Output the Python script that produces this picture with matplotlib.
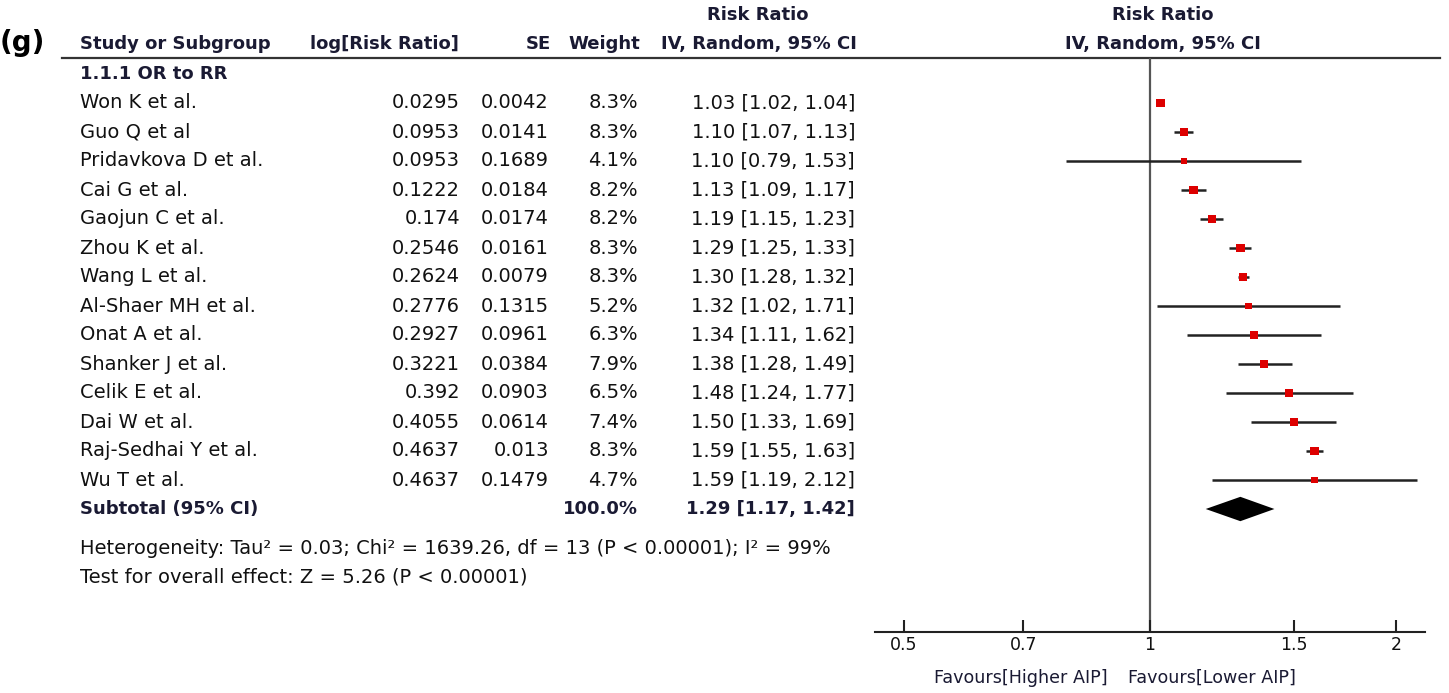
import numpy as np
import matplotlib
matplotlib.use("Agg")
import matplotlib.pyplot as plt

plt.rcParams['font.family'] = ['DejaVu Sans']

# data
studies = ["Won K et al.", "Guo Q et al", "Pridavkova D et al.", "Cai G et al.",
           "Gaojun C et al.", "Zhou K et al.", "Wang L et al.", "Al-Shaer MH et al.",
           "Onat A et al.", "Shanker J et al.", "Celik E et al.", "Dai W et al.",
           "Raj-Sedhai Y et al.", "Wu T et al."]
log_rr = ["0.0295", "0.0953", "0.0953", "0.1222", "0.174", "0.2546", "0.2624",
          "0.2776", "0.2927", "0.3221", "0.392", "0.4055", "0.4637", "0.4637"]
se = ["0.0042", "0.0141", "0.1689", "0.0184", "0.0174", "0.0161", "0.0079",
      "0.1315", "0.0961", "0.0384", "0.0903", "0.0614", "0.013", "0.1479"]
weight = [8.3, 8.3, 4.1, 8.2, 8.2, 8.3, 8.3, 5.2, 6.3, 7.9, 6.5, 7.4, 8.3, 4.7]
rr = [1.03, 1.10, 1.10, 1.13, 1.19, 1.29, 1.30, 1.32, 1.34, 1.38, 1.48, 1.50, 1.59, 1.59]
ci_lo = [1.02, 1.07, 0.79, 1.09, 1.15, 1.25, 1.28, 1.02, 1.11, 1.28, 1.24, 1.33, 1.55, 1.19]
ci_hi = [1.04, 1.13, 1.53, 1.17, 1.23, 1.33, 1.32, 1.71, 1.62, 1.49, 1.77, 1.69, 1.63, 2.12]
sub_rr, sub_lo, sub_hi = 1.29, 1.17, 1.42
ticks = [0.5, 0.7, 1, 1.5, 2]
tick_labels = ["0.5", "0.7", "1", "1.5", "2"]

W, H = 1449, 693
fig = plt.figure(figsize=(W / 100, H / 100), dpi=100)

# text layer in pixel coordinates
tx = fig.add_axes([0, 0, 1, 1])
tx.set_xlim(0, W)
tx.set_ylim(H, 0)
tx.axis("off")

txt_col = "#111111"
hdr_col = "#1a1a33"
fs = 14      # body text
fb = 13      # bold headers
ff = 12.6    # favours labels

tx.text(0, 43, "(g)", fontsize=20, fontweight="bold", color="#000000", va="center")
tx.text(758, 15, "Risk Ratio", fontsize=fb, fontweight="bold", color=hdr_col, ha="center", va="center")
tx.text(1163, 15, "Risk Ratio", fontsize=fb, fontweight="bold", color=hdr_col, ha="center", va="center")
tx.text(80, 44, "Study or Subgroup", fontsize=fb, fontweight="bold", color=hdr_col, va="center")
tx.text(459, 44, "log[Risk Ratio]", fontsize=fb, fontweight="bold", color=hdr_col, ha="right", va="center")
tx.text(551, 44, "SE", fontsize=fb, fontweight="bold", color=hdr_col, ha="right", va="center")
tx.text(640, 44, "Weight", fontsize=fb, fontweight="bold", color=hdr_col, ha="right", va="center")
tx.text(857, 44, "IV, Random, 95% CI", fontsize=fb, fontweight="bold", color=hdr_col, ha="right", va="center")
tx.text(1163, 44, "IV, Random, 95% CI", fontsize=fb, fontweight="bold", color=hdr_col, ha="center", va="center")
tx.plot([62, 1440], [58, 58], color="#333333", lw=1.6)
tx.text(80, 74, "1.1.1 OR to RR", fontsize=fb, fontweight="bold", color=hdr_col, va="center")

row0, step = 103, 29
for i, name in enumerate(studies):
    y = row0 + step * i
    tx.text(80, y, name, fontsize=fs, color=txt_col, va="center")
    tx.text(460, y, log_rr[i], fontsize=fs, color=txt_col, ha="right", va="center")
    tx.text(549, y, se[i], fontsize=fs, color=txt_col, ha="right", va="center")
    tx.text(638, y, f"{weight[i]:.1f}%", fontsize=fs, color=txt_col, ha="right", va="center")
    tx.text(855, y, f"{rr[i]:.2f} [{ci_lo[i]:.2f}, {ci_hi[i]:.2f}]", fontsize=fs,
            color=txt_col, ha="right", va="center")

ys = row0 + step * len(studies)
tx.text(80, ys, "Subtotal (95% CI)", fontsize=fb, fontweight="bold", color=hdr_col, va="center")
tx.text(638, ys, f"{sum(weight):.1f}%", fontsize=fb, fontweight="bold", color=hdr_col, ha="right", va="center")
tx.text(855, ys, f"{sub_rr:.2f} [{sub_lo:.2f}, {sub_hi:.2f}]", fontsize=fb, fontweight="bold",
        color=hdr_col, ha="right", va="center")
tx.text(80, 548, "Heterogeneity: Tau\u00b2 = 0.03; Chi\u00b2 = 1639.26, df = 13 (P < 0.00001); I\u00b2 = 99%",
        fontsize=fs, color=txt_col, va="center")
tx.text(80, 577, "Test for overall effect: Z = 5.26 (P < 0.00001)", fontsize=fs, color=txt_col, va="center")
tx.text(1108, 678, "Favours[Higher AIP]", fontsize=ff, color=hdr_col, ha="right", va="center")
tx.text(1128, 678, "Favours[Lower AIP]", fontsize=ff, color=hdr_col, ha="left", va="center")

# forest plot axes
x0, x1, ytop, ybot = 875, 1425, 58, 632
ax = fig.add_axes([x0 / W, 1 - ybot / H, (x1 - x0) / W, (ybot - ytop) / H])
ax.patch.set_alpha(0)
ax.set_xscale("log")
ax.set_xlim(np.exp(-0.775), np.exp(0.775))
ax.set_ylim((ybot - row0) / step, (ytop - row0) / step)
for s in ["top", "right", "left"]:
    ax.spines[s].set_visible(False)
ax.spines["bottom"].set_linewidth(1.5)
ax.spines["bottom"].set_color("#222222")
ax.set_yticks([])
ax.set_xticks(ticks)
ax.set_xticklabels(tick_labels, fontsize=12.5, color=txt_col)
ax.minorticks_off()
ax.tick_params(axis="x", direction="in", length=9, width=1.5, color="#222222", pad=3)
ax.axvline(1, color="#555555", lw=1.6, zorder=1)

rows = np.arange(len(studies))
ax.hlines(rows, ci_lo, ci_hi, color="#222222", lw=1.8, zorder=2)
sizes = [(np.sqrt(w) * 2.1) ** 2 for w in weight]
ax.scatter(rr, rows, s=sizes, marker="s", color="#dd0000", zorder=3, linewidths=0)

sub_row = len(studies)
ax.fill([sub_lo, sub_rr, sub_hi, sub_rr], [sub_row, sub_row - 0.42, sub_row, sub_row + 0.42],
        color="black", zorder=3, lw=0)

fig.savefig("out.png", dpi=100)
